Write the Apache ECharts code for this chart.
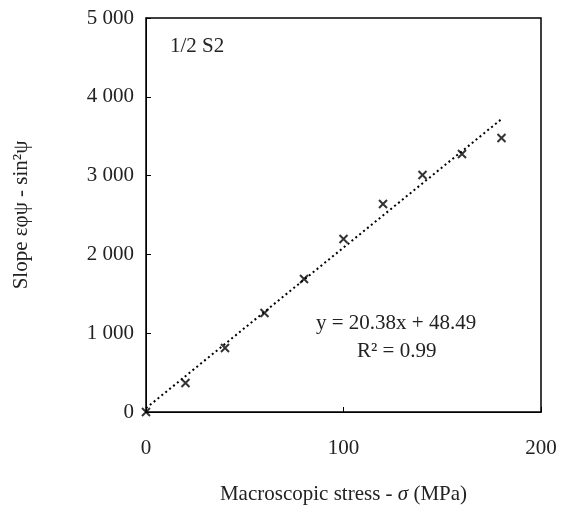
<!DOCTYPE html>
<html><head><meta charset="utf-8">
<script src="https://cdn.jsdelivr.net/npm/echarts@6/dist/echarts.min.js"></script>
<style>body{margin:0}#c{width:561px;height:510px}</style></head>
<body><div id="c"></div>
<script>
const stress = [0, 20, 40, 60, 80, 100, 120, 140, 160, 180];
const slope = [0, 368, 812, 1256, 1688, 2195, 2640, 3008, 3274, 3477];
const trendX = [0, 180];
const trendY = [48, 3717];
const font = 'Liberation Serif';
const chart = echarts.init(document.getElementById('c'));
chart.setOption({
  animation: false,
  textStyle: { fontFamily: font },
  grid: { left: 146, right: 20, top: 18, bottom: 98, show: true, borderColor: '#000', borderWidth: 1.5 },
  xAxis: {
    type: 'value', min: 0, max: 200, interval: 100,
    name: 'Macroscopic stress - {i|σ} (MPa)', nameLocation: 'middle', nameGap: 72,
    nameTextStyle: { fontSize: 21, color: '#222', fontFamily: font,
      rich: { i: { fontSize: 21, fontStyle: 'italic', color: '#222', fontFamily: font } } },
    axisLine: { lineStyle: { color: '#000' } },
    axisTick: { show: true, inside: true, length: 5, lineStyle: { color: '#000' } },
    axisLabel: { fontSize: 21, color: '#222', margin: 26, fontFamily: font },
    splitLine: { show: false }
  },
  yAxis: {
    type: 'value', min: 0, max: 5000, interval: 1000,
    name: 'Slope εφψ - sin²ψ', nameLocation: 'middle', nameGap: 114,
    nameTextStyle: { fontSize: 21, color: '#222', fontFamily: font },
    axisLine: { lineStyle: { color: '#000' } },
    axisTick: { show: true, inside: true, length: 5, lineStyle: { color: '#000' } },
    axisLabel: { fontSize: 21, color: '#222', margin: 12, fontFamily: font,
      formatter: v => String(v).replace(/\B(?=(\d{3})+(?!\d))/g, ' ') },
    splitLine: { show: false }
  },
  series: [
    { type: 'scatter', data: stress.map((x, i) => [x, slope[i]]),
      symbol: 'path://M0,0L10,10M10,0L0,10', symbolSize: 8,
      itemStyle: { color: 'none', borderColor: '#000', borderWidth: 2 } },
    { type: 'line', data: trendX.map((x, i) => [x, trendY[i]]), symbol: 'none',
      lineStyle: { color: '#000', width: 2, type: [2, 3] } }
  ],
  graphic: [
    { type: 'text', left: 170, top: 36, style: { text: '1/2 S2', font: '21px ' + font, fill: '#222' } },
    { type: 'text', left: 316, top: 313, style: { text: 'y = 20.38x + 48.49', font: '21px ' + font, fill: '#222' } },
    { type: 'text', left: 357, top: 341, style: { text: 'R² = 0.99', font: '21px ' + font, fill: '#222' } }
  ]
});
</script></body></html>
